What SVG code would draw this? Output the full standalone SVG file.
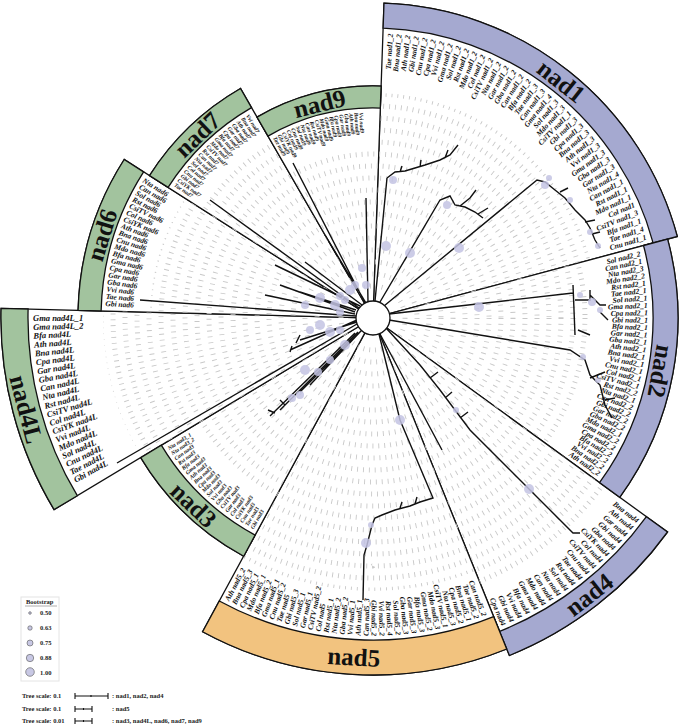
<svg xmlns="http://www.w3.org/2000/svg" width="685" height="728" viewBox="0 0 685 728">
<style>
.w{fill:#fff;stroke:#111;stroke-width:1.3}
.bb{fill:#a5a9d0;stroke:#111;stroke-width:1.3}
.bg{fill:#a2c39e;stroke:#111;stroke-width:1.3}
.bo{fill:#f2c37f;stroke:#111;stroke-width:1.3}
.rg{fill:none;stroke:#c8c8c8;stroke-width:5;stroke-dasharray:0.9 5}
.t{fill:none;stroke:#111;stroke-width:1.4}
.bs{fill:#c3c3e3;fill-opacity:0.85}
.lb{font-family:"Liberation Serif",serif;font-style:italic;font-weight:bold;font-size:7.5px;fill:#111;dominant-baseline:central}
.e{text-anchor:end}
.sm{font-size:5.6px}
.md{font-size:8.5px}
.big{font-family:"Liberation Serif",serif;font-weight:bold;font-size:25px;text-anchor:middle;dominant-baseline:central;fill:#111}
.lg{font-family:"Liberation Serif",serif;font-weight:bold;font-size:6.5px;fill:#222}
</style>
<defs>
<clipPath id="clip">
<path d="M373,318 L380.9,93.1 A225,225 0 0 1 590.3,259.8 Z"/>
<path d="M373,318 L580.7,262.4 A215,215 0 0 1 546.9,444.4 Z"/>
<path d="M373,318 L606.8,487.9 A289,289 0 0 1 481.3,586.0 Z"/>
<path d="M373,318 L475.3,571.1 A273,273 0 0 1 242.7,557.9 Z"/>
<path d="M373,318 L276.1,496.4 A203,203 0 0 1 199.0,422.5 Z"/>
<path d="M373,318 L141.6,457.1 A270,270 0 0 1 103.1,310.9 Z"/>
<path d="M373,318 L150.1,312.2 A223,223 0 0 1 184.9,198.2 Z"/>
<path d="M373,318 L201.0,208.4 A204,204 0 0 1 271.0,141.3 Z"/>
<path d="M373,318 L287.5,169.9 A171,171 0 0 1 379.0,147.1 Z"/>
</clipPath>
</defs>
<rect width="685" height="728" fill="#fff"/>
<g id="wedges">
<path class="w" d="M373.6,301 L384,3.2 A315,315 0 0 1 677.3,236.5 L389.4,313.6"/>
<path class="w" d="M389.4,313.6 L667.6,239.1 A305,305 0 0 1 619.7,497.3 L386.8,328"/>
<path class="w" d="M386.8,328 L667.5,532 A364,364 0 0 1 509.4,655.5 L379.4,333.8"/>
<path class="w" d="M379.4,333.8 L506.7,649 A357,357 0 0 1 202.6,631.7 L364.9,332.9"/>
<path class="w" d="M364.9,332.9 L243.7,556.2 A271,271 0 0 1 140.7,457.6 L358.4,326.8"/>
<path class="w" d="M358.4,326.8 L54.1,509.6 A372,372 0 0 1 1.1,308.3 L356,317.6"/>
<path class="w" d="M356,317.6 L78.1,310.3 A295,295 0 0 1 124.2,159.5 L358.7,308.9"/>
<path class="w" d="M358.7,308.9 L149.5,175.6 A265,265 0 0 1 240.5,88.5 L364.5,303.3"/>
<path class="w" d="M364.5,303.3 L257,117.1 A232,232 0 0 1 381.1,86.1 L373.6,301"/>
</g>
<g id="rings" clip-path="url(#clip)">
<circle class="rg" cx="373" cy="318" r="32"/><circle class="rg" cx="373" cy="318" r="44"/><circle class="rg" cx="373" cy="318" r="56"/><circle class="rg" cx="373" cy="318" r="68"/><circle class="rg" cx="373" cy="318" r="80"/><circle class="rg" cx="373" cy="318" r="92"/><circle class="rg" cx="373" cy="318" r="104"/><circle class="rg" cx="373" cy="318" r="116"/><circle class="rg" cx="373" cy="318" r="128"/><circle class="rg" cx="373" cy="318" r="140"/><circle class="rg" cx="373" cy="318" r="152"/><circle class="rg" cx="373" cy="318" r="164"/><circle class="rg" cx="373" cy="318" r="176"/><circle class="rg" cx="373" cy="318" r="188"/><circle class="rg" cx="373" cy="318" r="200"/><circle class="rg" cx="373" cy="318" r="212"/><circle class="rg" cx="373" cy="318" r="224"/><circle class="rg" cx="373" cy="318" r="236"/><circle class="rg" cx="373" cy="318" r="248"/><circle class="rg" cx="373" cy="318" r="260"/><circle class="rg" cx="373" cy="318" r="272"/><circle class="rg" cx="373" cy="318" r="284"/>
</g>
<g id="bands">
<path class="bb" d="M383.1,28.2 L384,3.2 A315,315 0 0 1 677.3,236.5 L653.1,242.9 A290,290 0 0 0 383.1,28.2 Z"/>
<path class="bb" d="M643.5,245.5 L667.6,239.1 A305,305 0 0 1 619.7,497.3 L599.5,482.6 A280,280 0 0 0 643.5,245.5 Z"/>
<path class="bb" d="M646.4,516.7 L667.5,532 A364,364 0 0 1 509.4,655.5 L499.6,631.4 A338,338 0 0 0 646.4,516.7 Z"/>
<path class="bo" d="M493.6,616.6 L506.7,649 A357,357 0 0 1 202.6,631.7 L219.3,601 A322,322 0 0 0 493.6,616.6 Z"/>
<path class="bg" d="M255.1,535.1 L243.7,556.2 A271,271 0 0 1 140.7,457.6 L161.3,445.2 A247,247 0 0 0 255.1,535.1 Z"/>
<path class="bg" d="M77.3,495.7 L54.1,509.6 A372,372 0 0 1 1.1,308.3 L28.1,309 A345,345 0 0 0 77.3,495.7 Z"/>
<path class="bg" d="M101.1,310.9 L78.1,310.3 A295,295 0 0 1 124.2,159.5 L143.6,171.9 A272,272 0 0 0 101.1,310.9 Z"/>
<path class="bg" d="M168.1,187.4 L149.5,175.6 A265,265 0 0 1 240.5,88.5 L251.5,107.6 A243,243 0 0 0 168.1,187.4 Z"/>
<path class="bg" d="M268,136.1 L257,117.1 A232,232 0 0 1 381.1,86.1 L380.3,108.1 A210,210 0 0 0 268,136.1 Z"/>
<text class="big" transform="rotate(38.5 561.3 81.3)" x="561.3" y="81.3">nad1</text>
<text class="big" transform="rotate(100.5 660.6 371.3)" x="660.6" y="371.3">nad2</text>
<text class="big" transform="rotate(-38 589.1 594.6)" x="589.1" y="594.6">nad4</text>
<text class="big" transform="rotate(3.25 353.8 657)" x="353.8" y="657">nad5</text>
<text class="big" transform="rotate(43.75 193.7 504.9)" x="193.7" y="504.9">nad3</text>
<text class="big" transform="rotate(75.25 26.3 409.3)" x="26.3" y="409.3">nad4L</text>
<text class="big" transform="rotate(-73 101.9 235.1)" x="101.9" y="235.1">nad6</text>
<text class="big" transform="rotate(-43.75 197.4 134.5)" x="197.4" y="134.5">nad7</text>
<text class="big" transform="rotate(-14 319.5 103.6)" x="319.5" y="103.6">nad9</text>
</g>
<g id="connectors">
<path class="t" d="M375,301 L387,178 M387,178 L395,172 L405,171 L415,168 L425,165 L440,160 L450,155 L458,145 M400,172 L402,166 M420,167 L421,160 M445,158 L448,150"/>
<path class="t" d="M380,302 L440,200 L450,196 L455,205 L465,207 L475,212 L483,218 M460,206 L470,198 L476,190 M478,214 L488,208"/>
<path class="t" d="M384,306 L537,180 L545,182 L555,190 L565,198 L575,210 L585,220 L590,228 L595,240 L600,248 M560,192 L568,188 M585,222 L595,220 M592,234 L600,232"/>
<path class="t" d="M389,314 L573,293 M573,285 L575,335 M575,300 L590,300 L590,290 M590,295 L600,305 L606,305 M600,312 L608,320 M578,330 L590,335"/>
<path class="t" d="M389,320 L570,350 L585,360 L590,375 L600,385 L605,405 L612,418 M590,378 L605,372 M605,400 L615,398"/>
<path class="t" d="M386,328 L420,365 L440,390 L455,410 L470,430 L573,533 L580,533 M430,378 L438,372 M445,398 L452,392 M460,418 L468,412"/>
<path class="t" d="M379,334 L400,420 L433,498 L420,502 L410,506 L395,510 L382,515 L375,518 L372,525 L367,545 L364,555 L363,600 M400,508 L402,502 M415,504 L417,497 M380,334 L442,450"/>
<path class="t" d="M362,330 L300,392 M358,332 L280,410 M355,333 L270,416 M360,332 L310,385 M285,405 L280,400 M275,413 L268,410"/>
<path class="t" d="M357,320 L290,350 M357,322 L300,340 M357,324 L117,463 M300,335 L296,343 M292,346 L290,352"/>
<path class="t" d="M356,316 L140,300 M355,312 L280,285 M355,314 L265,295 M356,310 L300,292"/>
<path class="t" d="M359,308 L210,200 M360,306 L275,265 M362,305 L305,262"/>
<path class="t" d="M365,303 L293,163 M368,302 L366,198 M366,303 L325,235"/>
<g class="bs">
<circle cx="393" cy="180" r="4"/><circle cx="447" cy="205" r="4"/><circle cx="386" cy="246" r="5"/><circle cx="410" cy="253" r="5"/><circle cx="459" cy="248" r="5"/>
<circle cx="545" cy="185" r="4"/><circle cx="549" cy="178" r="3"/><circle cx="570" cy="200" r="3"/><circle cx="590" cy="232" r="3"/><circle cx="598" cy="246" r="3"/>
<circle cx="479" cy="307" r="5"/><circle cx="580" cy="295" r="3"/><circle cx="592" cy="302" r="4"/><circle cx="600" cy="310" r="3"/><circle cx="583" cy="357" r="3"/><circle cx="598" cy="380" r="3"/>
<circle cx="529" cy="489" r="5"/><circle cx="456" cy="410" r="3"/><circle cx="400" cy="420" r="5"/><circle cx="366" cy="543" r="5"/><circle cx="371" cy="525" r="3"/>
<circle cx="305" cy="370" r="5"/><circle cx="300" cy="395" r="4"/><circle cx="292" cy="398" r="4"/><circle cx="318" cy="372" r="4"/><circle cx="330" cy="360" r="4"/><circle cx="345" cy="345" r="5"/>
<circle cx="320" cy="325" r="5"/><circle cx="330" cy="332" r="5"/><circle cx="340" cy="330" r="4"/><circle cx="310" cy="330" r="4"/>
<circle cx="305" cy="305" r="4"/><circle cx="320" cy="298" r="5"/><circle cx="335" cy="305" r="5"/><circle cx="345" cy="300" r="4"/><circle cx="340" cy="312" r="4"/>
<circle cx="340" cy="296" r="4"/><circle cx="350" cy="290" r="5"/><circle cx="362" cy="268" r="4"/><circle cx="355" cy="285" r="4"/><circle cx="366" cy="285" r="4"/>
</g>
</g>
<circle cx="373" cy="318" r="17" fill="#fff" stroke="#111" stroke-width="1.3"/>
<g id="nad1-labels" class="lb e">
<text transform="rotate(-86.5 373 318)" x="658" y="318">Tae nad1_2</text>
<text transform="rotate(-84.75 373 318)" x="658" y="318">Bna nad1_2</text>
<text transform="rotate(-83 373 318)" x="658" y="318">Ath nad1_2</text>
<text transform="rotate(-81.25 373 318)" x="658" y="318">Gbi nad1_2</text>
<text transform="rotate(-79.5 373 318)" x="658" y="318">Cnu nad1_2</text>
<text transform="rotate(-77.75 373 318)" x="658" y="318">Cpa nad1_2</text>
<text transform="rotate(-76 373 318)" x="658" y="318">Vvi nad1_2</text>
<text transform="rotate(-74.25 373 318)" x="658" y="318">Gma nad1_2</text>
<text transform="rotate(-72.5 373 318)" x="658" y="318">Sol nad1_2</text>
<text transform="rotate(-70.75 373 318)" x="658" y="318">Rst nad1_2</text>
<text transform="rotate(-69 373 318)" x="658" y="318">Mdo nad1_2</text>
<text transform="rotate(-67.25 373 318)" x="658" y="318">Col nad1_2</text>
<text transform="rotate(-65.5 373 318)" x="658" y="318">CsiTV nad1_2</text>
<text transform="rotate(-63.75 373 318)" x="658" y="318">Nta nad1_2</text>
<text transform="rotate(-62 373 318)" x="658" y="318">Gar nad1_2</text>
<text transform="rotate(-60.25 373 318)" x="658" y="318">Gba nad1_2</text>
<text transform="rotate(-58.5 373 318)" x="658" y="318">Can nad1_2</text>
<text transform="rotate(-56.75 373 318)" x="658" y="318">Bfa nad1_2</text>
<text transform="rotate(-55 373 318)" x="658" y="318">Tae nad1_3</text>
<text transform="rotate(-53.25 373 318)" x="658" y="318">Can nad1_3</text>
<text transform="rotate(-51.5 373 318)" x="658" y="318">Gma nad1_4</text>
<text transform="rotate(-49.75 373 318)" x="658" y="318">Sol nad1_3</text>
<text transform="rotate(-48 373 318)" x="658" y="318">Mdo nad1_3</text>
<text transform="rotate(-46.25 373 318)" x="658" y="318">CsiTV nad1_1</text>
<text transform="rotate(-44.5 373 318)" x="658" y="318">Gbi nad1_3</text>
<text transform="rotate(-42.75 373 318)" x="658" y="318">Cpa nad1_3</text>
<text transform="rotate(-41 373 318)" x="658" y="318">Bna nad1_3</text>
<text transform="rotate(-39.25 373 318)" x="658" y="318">Ath nad1_3</text>
<text transform="rotate(-37.5 373 318)" x="658" y="318">Vvi nad1_3</text>
<text transform="rotate(-35.75 373 318)" x="658" y="318">Gma nad1_3</text>
<text transform="rotate(-34 373 318)" x="658" y="318">Gba nad1_3</text>
<text transform="rotate(-32.25 373 318)" x="658" y="318">Gar nad1_3</text>
<text transform="rotate(-30.5 373 318)" x="658" y="318">Nta nad1_4</text>
<text transform="rotate(-28.75 373 318)" x="658" y="318">Can nad1_1</text>
<text transform="rotate(-27 373 318)" x="658" y="318">Rst nad1_1</text>
<text transform="rotate(-25.25 373 318)" x="658" y="318">Mdo nad1_1</text>
<text transform="rotate(-23.5 373 318)" x="658" y="318">Col nad1</text>
<text transform="rotate(-21.75 373 318)" x="658" y="318">CsiTV nad1_3</text>
<text transform="rotate(-20 373 318)" x="658" y="318">Bfa nad1_1</text>
<text transform="rotate(-18.25 373 318)" x="658" y="318">Tae nad1_4</text>
<text transform="rotate(-16.5 373 318)" x="658" y="318">Cnu nad1_1</text>
</g>
<g id="nad2-labels" class="lb e">
<text transform="rotate(-13.5 373 318)" x="648" y="318">Sol nad2_2</text>
<text transform="rotate(-11.95 373 318)" x="648" y="318">Can nad2_1</text>
<text transform="rotate(-10.4 373 318)" x="648" y="318">Nta nad2_3</text>
<text transform="rotate(-8.85 373 318)" x="648" y="318">Mdo nad2_2</text>
<text transform="rotate(-7.3 373 318)" x="648" y="318">Rst nad2_1</text>
<text transform="rotate(-5.75 373 318)" x="648" y="318">Tae nad2_1</text>
<text transform="rotate(-4.2 373 318)" x="648" y="318">Sol nad2_1</text>
<text transform="rotate(-2.65 373 318)" x="648" y="318">Gma nad2_1</text>
<text transform="rotate(-1.1 373 318)" x="648" y="318">Cpa nad2_1</text>
<text transform="rotate(0.45 373 318)" x="648" y="318">Gbi nad2_1</text>
<text transform="rotate(2 373 318)" x="648" y="318">Bfa nad2_1</text>
<text transform="rotate(3.55 373 318)" x="648" y="318">Gar nad2_1</text>
<text transform="rotate(5.1 373 318)" x="648" y="318">Gba nad2_1</text>
<text transform="rotate(6.65 373 318)" x="648" y="318">Ath nad2_1</text>
<text transform="rotate(8.2 373 318)" x="648" y="318">Bna nad2_1</text>
<text transform="rotate(9.75 373 318)" x="648" y="318">Vvi nad2_1</text>
<text transform="rotate(11.3 373 318)" x="648" y="318">Cnu nad2_1</text>
<text transform="rotate(12.85 373 318)" x="648" y="318">Col nad2_1</text>
<text transform="rotate(14.4 373 318)" x="648" y="318">CsiTV nad2_1</text>
<text transform="rotate(15.95 373 318)" x="648" y="318">Rst nad2_2</text>
<text transform="rotate(17.5 373 318)" x="648" y="318">Nta nad2_1</text>
<text transform="rotate(19.05 373 318)" x="648" y="318">Can nad2_2</text>
<text transform="rotate(20.6 373 318)" x="648" y="318">Gbi nad2_2</text>
<text transform="rotate(22.15 373 318)" x="648" y="318">Gar nad2_2</text>
<text transform="rotate(23.7 373 318)" x="648" y="318">Gba nad2_2</text>
<text transform="rotate(25.25 373 318)" x="648" y="318">Mdo nad2_1</text>
<text transform="rotate(26.8 373 318)" x="648" y="318">Gma nad2_2</text>
<text transform="rotate(28.35 373 318)" x="648" y="318">Cpa nad2_2</text>
<text transform="rotate(29.9 373 318)" x="648" y="318">Bfa nad2_2</text>
<text transform="rotate(31.45 373 318)" x="648" y="318">Vvi nad2_2</text>
<text transform="rotate(33 373 318)" x="648" y="318">Bna nad2_2</text>
<text transform="rotate(34.55 373 318)" x="648" y="318">Ath nad2_2</text>
</g>
<g id="nad4-labels" class="lb e">
<text transform="rotate(37.5 373 318)" x="707" y="318">Bna nad4</text>
<text transform="rotate(39.05 373 318)" x="707" y="318">Ath nad4</text>
<text transform="rotate(40.6 373 318)" x="707" y="318">Gar nad4</text>
<text transform="rotate(42.15 373 318)" x="707" y="318">Gbi nad4</text>
<text transform="rotate(43.7 373 318)" x="707" y="318">Gba nad4</text>
<text transform="rotate(45.25 373 318)" x="707" y="318">CsiYK nad4</text>
<text transform="rotate(46.8 373 318)" x="707" y="318">Col nad4</text>
<text transform="rotate(48.35 373 318)" x="707" y="318">CsiTV nad4</text>
<text transform="rotate(49.9 373 318)" x="707" y="318">Cnu nad4</text>
<text transform="rotate(51.45 373 318)" x="707" y="318">Tae nad4</text>
<text transform="rotate(53 373 318)" x="707" y="318">Rst nad4</text>
<text transform="rotate(54.55 373 318)" x="707" y="318">Sol nad4</text>
<text transform="rotate(56.1 373 318)" x="707" y="318">Nta nad4</text>
<text transform="rotate(57.65 373 318)" x="707" y="318">Can nad4</text>
<text transform="rotate(59.2 373 318)" x="707" y="318">Mdo nad4</text>
<text transform="rotate(60.75 373 318)" x="707" y="318">Gma nad4</text>
<text transform="rotate(62.3 373 318)" x="707" y="318">Bfa nad4</text>
<text transform="rotate(63.85 373 318)" x="707" y="318">Vvi nad4</text>
<text transform="rotate(65.4 373 318)" x="707" y="318">Gbi nad4</text>
<text transform="rotate(66.95 373 318)" x="707" y="318">Cpa nad4</text>
</g>
<g id="nad5-labels" class="lb">
<text class="e" transform="rotate(69.5 373 318)" x="691" y="318">Can nad5_2</text>
<text class="e" transform="rotate(70.95 373 318)" x="691" y="318">Tae nad5_2</text>
<text class="e" transform="rotate(72.4 373 318)" x="691" y="318">Bna nad5_1</text>
<text class="e" transform="rotate(73.85 373 318)" x="691" y="318">Cpa nad5_2</text>
<text class="e" transform="rotate(75.3 373 318)" x="691" y="318">Nta nad5_3</text>
<text class="e" transform="rotate(76.75 373 318)" x="691" y="318">CsiTV nad5_1</text>
<text class="e" transform="rotate(78.2 373 318)" x="691" y="318">Mdo nad5_3</text>
<text class="e" transform="rotate(79.65 373 318)" x="691" y="318">Gma nad5_2</text>
<text class="e" transform="rotate(81.1 373 318)" x="691" y="318">Bfa nad5_3</text>
<text class="e" transform="rotate(82.55 373 318)" x="691" y="318">Gar nad5_3</text>
<text class="e" transform="rotate(84 373 318)" x="691" y="318">Gba nad5_3</text>
<text class="e" transform="rotate(85.45 373 318)" x="691" y="318">Sol nad5_2</text>
<text class="e" transform="rotate(86.9 373 318)" x="691" y="318">Rst nad5_4</text>
<text class="e" transform="rotate(88.35 373 318)" x="691" y="318">Vvi nad5_2</text>
<text class="e" transform="rotate(89.8 373 318)" x="691" y="318">Gbi nad5_2</text>
<text transform="rotate(-88.75 373 318)" x="55" y="318">Can nad5_3</text>
<text transform="rotate(-87.3 373 318)" x="55" y="318">Ath nad5_1</text>
<text transform="rotate(-85.85 373 318)" x="55" y="318">Vvi nad5_1</text>
<text transform="rotate(-84.4 373 318)" x="55" y="318">Gba nad5_2</text>
<text transform="rotate(-82.95 373 318)" x="55" y="318">Nta nad5_2</text>
<text transform="rotate(-81.5 373 318)" x="55" y="318">Rst nad5_1</text>
<text transform="rotate(-80.05 373 318)" x="55" y="318">Col nad5</text>
<text transform="rotate(-78.6 373 318)" x="55" y="318">CsiTV nad5_2</text>
<text transform="rotate(-77.15 373 318)" x="55" y="318">Gar nad5_1</text>
<text transform="rotate(-75.7 373 318)" x="55" y="318">Sol nad5_1</text>
<text transform="rotate(-74.25 373 318)" x="55" y="318">Gbi nad5_3</text>
<text transform="rotate(-72.8 373 318)" x="55" y="318">Tae nad5</text>
<text transform="rotate(-71.35 373 318)" x="55" y="318">Cnu nad5_2</text>
<text transform="rotate(-69.9 373 318)" x="55" y="318">Gma nad5_1</text>
<text transform="rotate(-68.45 373 318)" x="55" y="318">Bfa nad5_2</text>
<text transform="rotate(-67 373 318)" x="55" y="318">Mdo nad5_1</text>
<text transform="rotate(-65.55 373 318)" x="55" y="318">Cpa nad5_1</text>
<text transform="rotate(-64.1 373 318)" x="55" y="318">Bna nad5_3</text>
<text transform="rotate(-62.65 373 318)" x="55" y="318">Ath nad5_2</text>
</g>
<g id="nad3-labels" class="lb sm">
<text transform="rotate(-32.5 373 318)" x="130" y="318">Nta nad3_1</text>
<text transform="rotate(-33.95 373 318)" x="130" y="318">Nta nad3_2</text>
<text transform="rotate(-35.4 373 318)" x="130" y="318">Can nad3</text>
<text transform="rotate(-36.85 373 318)" x="130" y="318">Rst nad3</text>
<text transform="rotate(-38.3 373 318)" x="130" y="318">Bfa nad3</text>
<text transform="rotate(-39.75 373 318)" x="130" y="318">Gma nad3</text>
<text transform="rotate(-41.2 373 318)" x="130" y="318">Ath nad3</text>
<text transform="rotate(-42.65 373 318)" x="130" y="318">Bna nad3</text>
<text transform="rotate(-44.1 373 318)" x="130" y="318">Cpa nad3</text>
<text transform="rotate(-45.55 373 318)" x="130" y="318">Mdo nad3</text>
<text transform="rotate(-47 373 318)" x="130" y="318">Sol nad3</text>
<text transform="rotate(-48.45 373 318)" x="130" y="318">Vvi nad3</text>
<text transform="rotate(-49.9 373 318)" x="130" y="318">Gba nad3</text>
<text transform="rotate(-51.35 373 318)" x="130" y="318">CsiTV nad3</text>
<text transform="rotate(-52.8 373 318)" x="130" y="318">Gar nad3</text>
<text transform="rotate(-54.25 373 318)" x="130" y="318">Col nad3</text>
<text transform="rotate(-55.7 373 318)" x="130" y="318">CsiYK nad3</text>
<text transform="rotate(-57.15 373 318)" x="130" y="318">Cnu nad3</text>
<text transform="rotate(-58.6 373 318)" x="130" y="318">Tae nad3</text>
<text transform="rotate(-60.05 373 318)" x="130" y="318">Gbi nad3</text>
</g>
<g id="nad4L-labels" class="lb md">
<text transform="rotate(0 373 318)" x="33" y="318">Gma nad4L_1</text>
<text transform="rotate(-1.5 373 318)" x="33" y="318">Gma nad4L_2</text>
<text transform="rotate(-3 373 318)" x="33" y="318">Bfa nad4L</text>
<text transform="rotate(-4.5 373 318)" x="33" y="318">Ath nad4L</text>
<text transform="rotate(-6 373 318)" x="33" y="318">Bna nad4L</text>
<text transform="rotate(-7.5 373 318)" x="33" y="318">Cpa nad4L</text>
<text transform="rotate(-9 373 318)" x="33" y="318">Gar nad4L</text>
<text transform="rotate(-10.5 373 318)" x="33" y="318">Gba nad4L</text>
<text transform="rotate(-12 373 318)" x="33" y="318">Can nad4L</text>
<text transform="rotate(-13.5 373 318)" x="33" y="318">Nta nad4L</text>
<text transform="rotate(-15 373 318)" x="33" y="318">Rst nad4L</text>
<text transform="rotate(-16.5 373 318)" x="33" y="318">CsiTV nad4L</text>
<text transform="rotate(-18 373 318)" x="33" y="318">Col nad4L</text>
<text transform="rotate(-19.5 373 318)" x="33" y="318">CsiYK nad4L</text>
<text transform="rotate(-21 373 318)" x="33" y="318">Vvi nad4L</text>
<text transform="rotate(-22.5 373 318)" x="33" y="318">Mdo nad4L</text>
<text transform="rotate(-24 373 318)" x="33" y="318">Sol nad4L</text>
<text transform="rotate(-25.5 373 318)" x="33" y="318">Cnu nad4L</text>
<text transform="rotate(-27 373 318)" x="33" y="318">Tae nad4L</text>
<text transform="rotate(-28.5 373 318)" x="33" y="318">Gbi nad4L</text>
</g>
<g id="nad6-labels" class="lb">
<text transform="rotate(31 373 318)" x="105" y="318">Nta nad6</text>
<text transform="rotate(29.45 373 318)" x="105" y="318">Can nad6</text>
<text transform="rotate(27.9 373 318)" x="105" y="318">Sol nad6</text>
<text transform="rotate(26.35 373 318)" x="105" y="318">Rst nad6</text>
<text transform="rotate(24.8 373 318)" x="105" y="318">CsiTV nad6</text>
<text transform="rotate(23.25 373 318)" x="105" y="318">Col nad6</text>
<text transform="rotate(21.7 373 318)" x="105" y="318">CsiYK nad6</text>
<text transform="rotate(20.15 373 318)" x="105" y="318">Ath nad6</text>
<text transform="rotate(18.6 373 318)" x="105" y="318">Bna nad6</text>
<text transform="rotate(17.05 373 318)" x="105" y="318">Cnu nad6</text>
<text transform="rotate(15.5 373 318)" x="105" y="318">Mdo nad6</text>
<text transform="rotate(13.95 373 318)" x="105" y="318">Bfa nad6</text>
<text transform="rotate(12.4 373 318)" x="105" y="318">Gma nad6</text>
<text transform="rotate(10.85 373 318)" x="105" y="318">Cpa nad6</text>
<text transform="rotate(9.3 373 318)" x="105" y="318">Gar nad6</text>
<text transform="rotate(7.75 373 318)" x="105" y="318">Gba nad6</text>
<text transform="rotate(6.2 373 318)" x="105" y="318">Vvi nad6</text>
<text transform="rotate(4.65 373 318)" x="105" y="318">Tae nad6</text>
<text transform="rotate(3.1 373 318)" x="105" y="318">Gbi nad6</text>
</g>
<g id="nad7-labels" class="lb sm">
<text transform="rotate(34 373 318)" x="134" y="318">Tae nad7</text>
<text transform="rotate(35.35 373 318)" x="134" y="318">CsiYK nad7</text>
<text transform="rotate(36.7 373 318)" x="134" y="318">Gbi nad7</text>
<text transform="rotate(38.05 373 318)" x="134" y="318">Cnu nad7</text>
<text transform="rotate(39.4 373 318)" x="134" y="318">Col nad7</text>
<text transform="rotate(40.75 373 318)" x="134" y="318">Sol nad7</text>
<text transform="rotate(42.1 373 318)" x="134" y="318">Nta nad7</text>
<text transform="rotate(43.45 373 318)" x="134" y="318">Can nad7</text>
<text transform="rotate(44.8 373 318)" x="134" y="318">Rst nad7</text>
<text transform="rotate(46.15 373 318)" x="134" y="318">CsiTV nad7</text>
<text transform="rotate(47.5 373 318)" x="134" y="318">Mdo nad7</text>
<text transform="rotate(48.85 373 318)" x="134" y="318">Gma nad7</text>
<text transform="rotate(50.2 373 318)" x="134" y="318">Bfa nad7</text>
<text transform="rotate(51.55 373 318)" x="134" y="318">Cpa nad7</text>
<text transform="rotate(52.9 373 318)" x="134" y="318">Gar nad7</text>
<text transform="rotate(54.25 373 318)" x="134" y="318">Gba nad7</text>
<text transform="rotate(55.6 373 318)" x="134" y="318">Ath nad7</text>
<text transform="rotate(56.95 373 318)" x="134" y="318">Bna nad7</text>
<text transform="rotate(58.3 373 318)" x="134" y="318">Vvi nad7</text>
</g>
<g id="nad9-labels" class="lb sm">
<text transform="rotate(61.5 373 318)" x="167" y="318">Tae nad9</text>
<text transform="rotate(62.9 373 318)" x="167" y="318">Gbi nad9</text>
<text transform="rotate(64.3 373 318)" x="167" y="318">CsiYK nad9</text>
<text transform="rotate(65.7 373 318)" x="167" y="318">Col nad9</text>
<text transform="rotate(67.1 373 318)" x="167" y="318">Cnu nad9</text>
<text transform="rotate(68.5 373 318)" x="167" y="318">Sol nad9</text>
<text transform="rotate(69.9 373 318)" x="167" y="318">Nta nad9</text>
<text transform="rotate(71.3 373 318)" x="167" y="318">Can nad9</text>
<text transform="rotate(72.7 373 318)" x="167" y="318">Rst nad9</text>
<text transform="rotate(74.1 373 318)" x="167" y="318">CsiTV nad9</text>
<text transform="rotate(75.5 373 318)" x="167" y="318">Mdo nad9</text>
<text transform="rotate(76.9 373 318)" x="167" y="318">Gma nad9</text>
<text transform="rotate(78.3 373 318)" x="167" y="318">Bfa nad9</text>
<text transform="rotate(79.7 373 318)" x="167" y="318">Cpa nad9</text>
<text transform="rotate(81.1 373 318)" x="167" y="318">Gar nad9</text>
<text transform="rotate(82.5 373 318)" x="167" y="318">Gba nad9</text>
<text transform="rotate(83.9 373 318)" x="167" y="318">Ath nad9</text>
<text transform="rotate(85.3 373 318)" x="167" y="318">Bna nad9</text>
<text transform="rotate(86.7 373 318)" x="167" y="318">Vvi nad9</text>
</g>
<g id="legend">
<rect x="21" y="597" width="38" height="84" fill="#fff" stroke="#e4e4e4"/>
<text class="lg" x="26" y="604">Bootstrap</text>
<line x1="25" y1="606" x2="57" y2="606" stroke="#999" stroke-width="0.8"/>
<g fill="#c8c8e4" stroke="#555" stroke-width="0.6">
<circle cx="30" cy="613" r="1.3"/><circle cx="30" cy="628" r="2.2"/><circle cx="30" cy="643" r="3"/><circle cx="30" cy="658" r="3.7"/><circle cx="30" cy="672" r="4.3"/>
</g>
<text class="lg" x="40" y="615">0.50</text>
<text class="lg" x="40" y="630">0.63</text>
<text class="lg" x="40" y="645">0.75</text>
<text class="lg" x="40" y="660">0.88</text>
<text class="lg" x="40" y="675">1.00</text>
<text class="lg" x="22" y="698">Tree scale: 0.1</text>
<text class="lg" x="22" y="711">Tree scale: 0.1</text>
<text class="lg" x="22" y="723">Tree scale: 0.01</text>
<path d="M75,696 H108 M75,693 V699 M108,693 V699 M91,695 V697 M75,709 H92 M75,706 V712 M92,706 V712 M83.5,708 V710 M75,721 H92 M75,718 V724 M92,718 V724 M83.5,720 V722" stroke="#111" stroke-width="1.1" fill="none"/>
<text class="lg" x="112" y="698">: nad1, nad2, nad4</text>
<text class="lg" x="112" y="711">: nad5</text>
<text class="lg" x="112" y="723">: nad3, nad4L, nad6, nad7, nad9</text>
</g>
</svg>
